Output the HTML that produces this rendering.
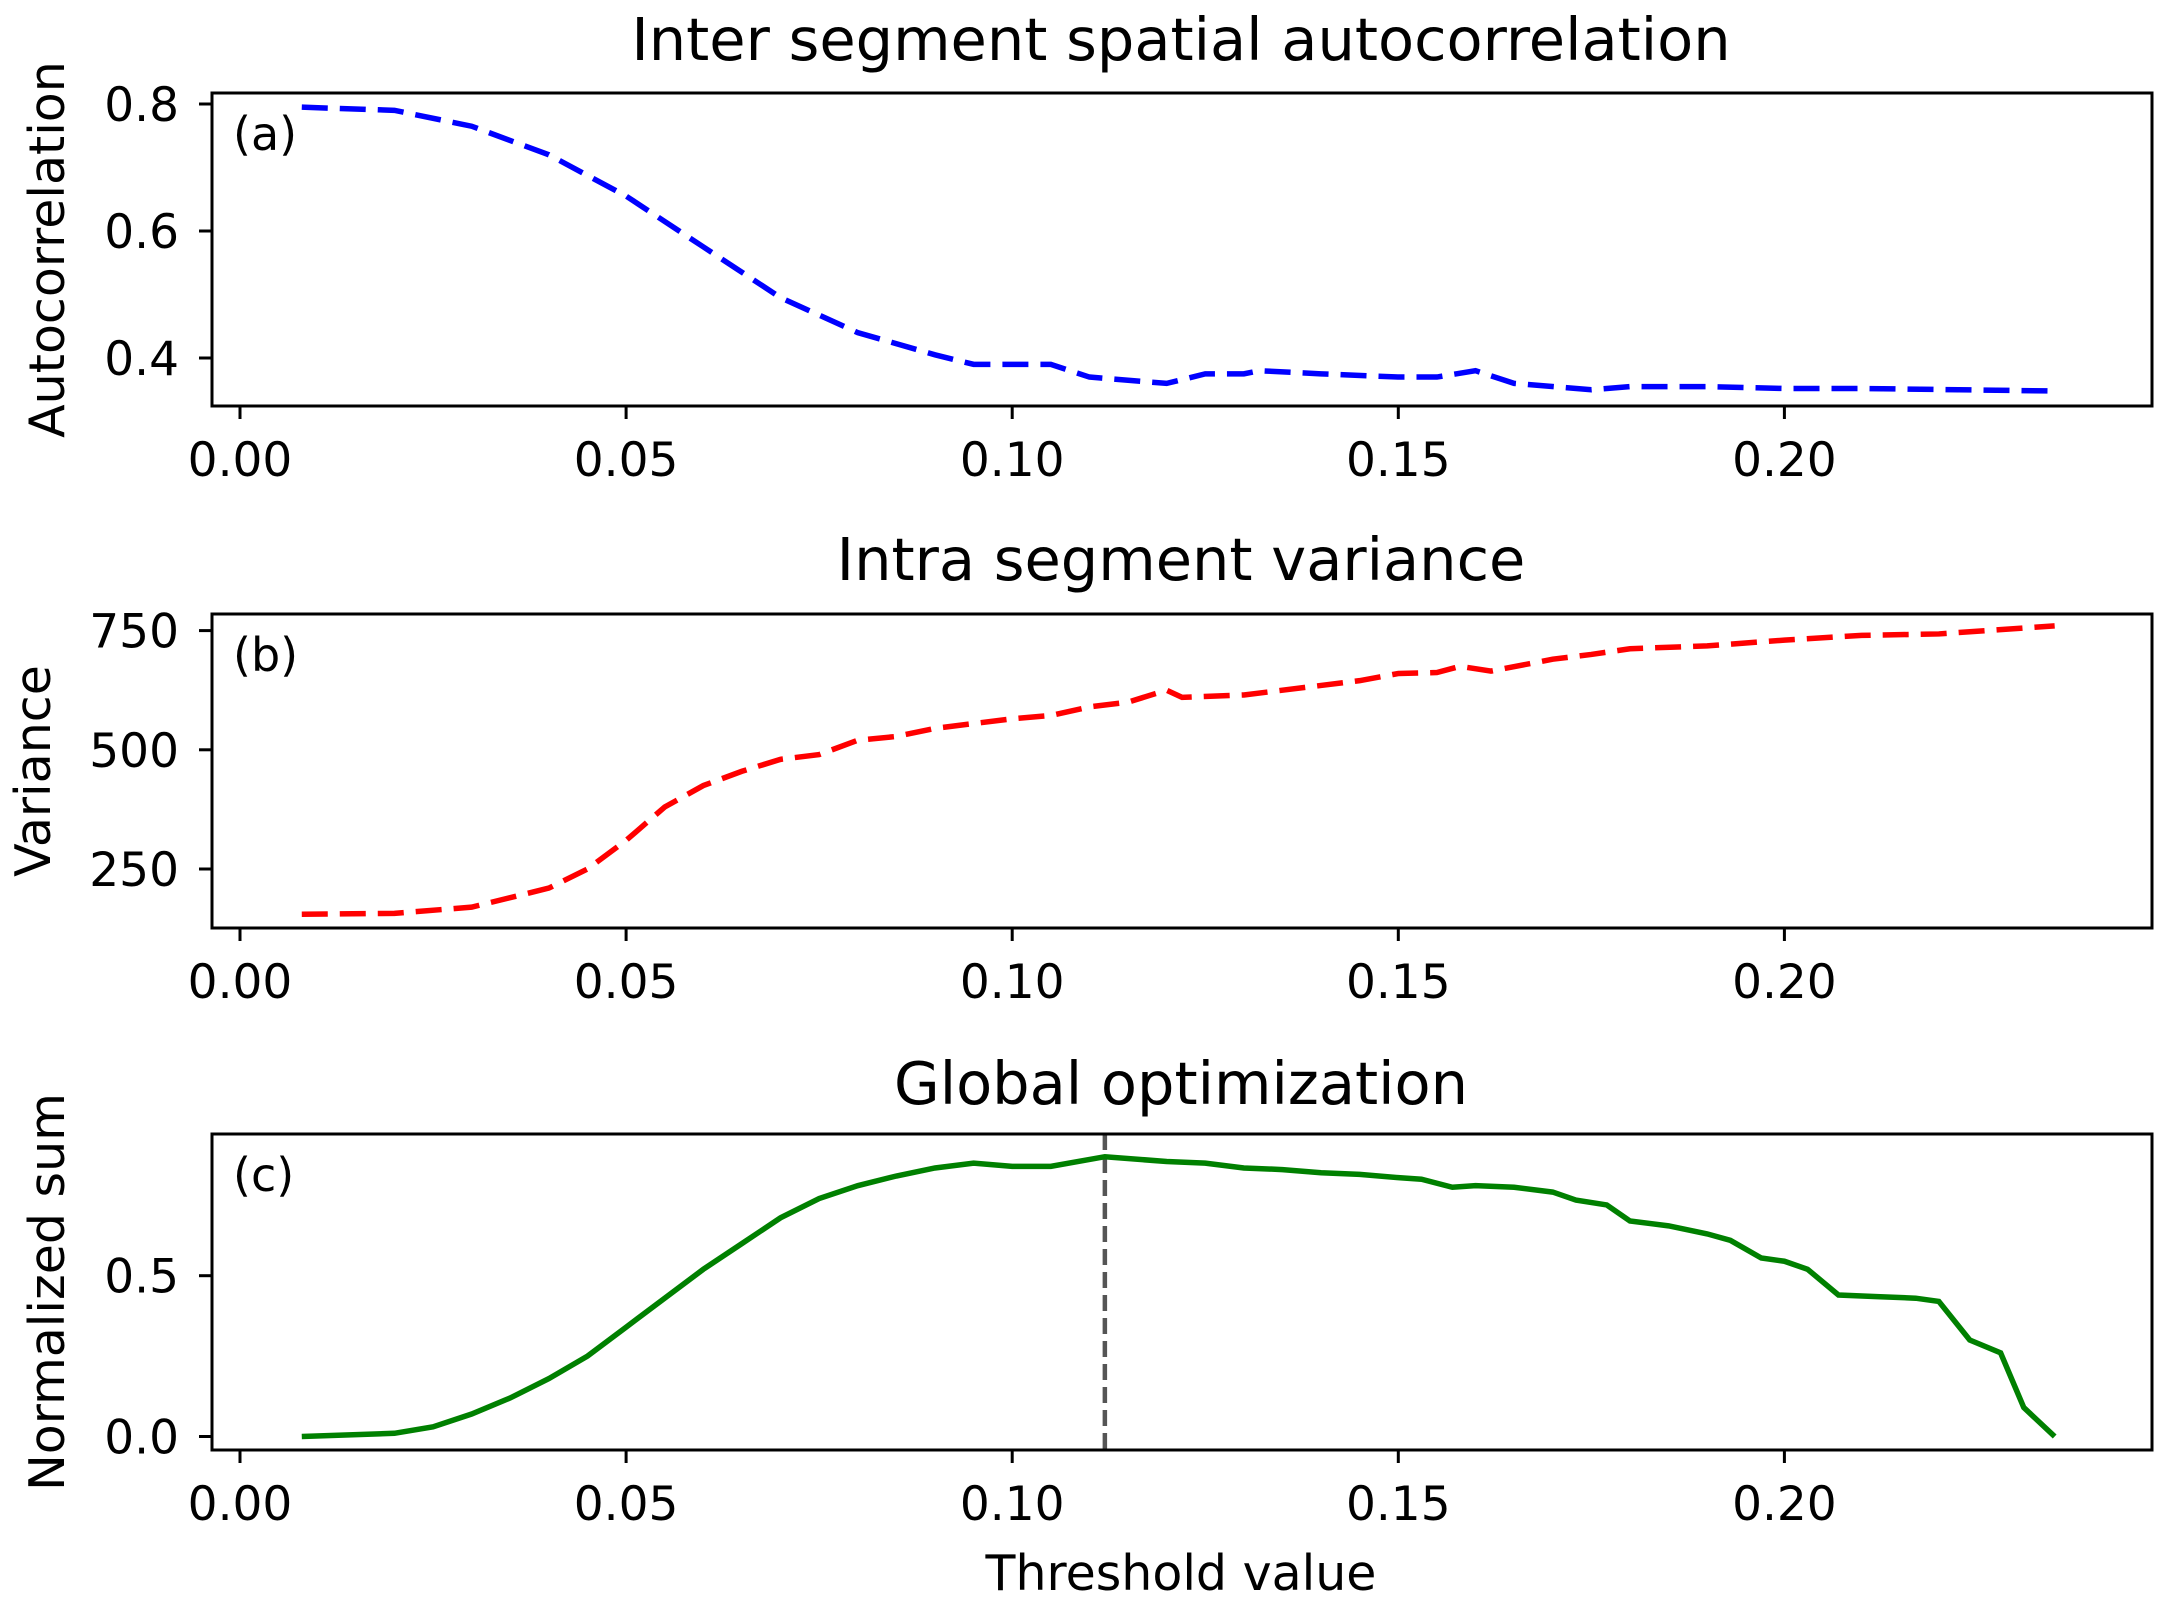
<!DOCTYPE html>
<html><head><meta charset="utf-8"><style>
html,body{margin:0;padding:0;background:#fff}
svg text{font-family:"DejaVu Sans","Liberation Sans",sans-serif;fill:#000}
</style></head><body>
<svg id="fig" width="2167" height="1615" viewBox="0 0 2167 1615" xmlns="http://www.w3.org/2000/svg"></svg>
<script>
const xTicks=[0.00,0.05,0.10,0.15,0.20];
const xTickLabels=["0.00","0.05","0.10","0.15","0.20"];
const aX=[0.008,0.02,0.03,0.04,0.05,0.06,0.07,0.08,0.09,0.095,0.105,0.11,0.12,0.125,0.13,0.132,0.14,0.15,0.155,0.16,0.165,0.175,0.18,0.19,0.2,0.21,0.235];
const aY=[0.795,0.79,0.765,0.72,0.655,0.575,0.495,0.44,0.405,0.39,0.39,0.37,0.36,0.375,0.375,0.38,0.375,0.37,0.37,0.38,0.36,0.35,0.355,0.355,0.352,0.352,0.348];
const aTicks=[0.4,0.6,0.8];
const aTickLabels=["0.4","0.6","0.8"];
const bX=[0.008,0.02,0.03,0.04,0.045,0.05,0.055,0.06,0.065,0.07,0.075,0.08,0.085,0.09,0.1,0.105,0.11,0.115,0.12,0.122,0.13,0.14,0.145,0.15,0.155,0.158,0.162,0.17,0.175,0.18,0.19,0.2,0.21,0.22,0.235];
const bY=[155,157,170,210,250,310,380,425,455,480,490,520,528,545,565,572,590,600,625,610,615,635,645,660,662,675,665,690,700,712,718,730,740,743,760];
const bTicks=[250,500,750];
const bTickLabels=["250","500","750"];
const cX=[0.008,0.02,0.025,0.03,0.035,0.04,0.045,0.05,0.055,0.06,0.065,0.07,0.075,0.08,0.085,0.09,0.095,0.1,0.105,0.112,0.12,0.125,0.13,0.135,0.14,0.145,0.15,0.153,0.157,0.16,0.165,0.17,0.173,0.177,0.18,0.185,0.19,0.193,0.197,0.2,0.203,0.207,0.212,0.217,0.22,0.224,0.228,0.231,0.235];
const cY=[0.0,0.01,0.03,0.07,0.12,0.18,0.25,0.34,0.43,0.52,0.60,0.68,0.74,0.78,0.81,0.835,0.85,0.84,0.84,0.87,0.855,0.85,0.835,0.83,0.82,0.815,0.805,0.80,0.775,0.78,0.775,0.76,0.735,0.72,0.67,0.655,0.63,0.61,0.555,0.545,0.52,0.44,0.435,0.43,0.42,0.30,0.26,0.09,0.0];
const cTicks=[0.0,0.5];
const cTickLabels=["0.0","0.5"];
const optimumX=[0.112];

const NS="http://www.w3.org/2000/svg";
const svg=document.getElementById('fig');
function mk(tag,attrs,parent){const e=document.createElementNS(NS,tag);for(const k in attrs)e.setAttribute(k,attrs[k]);(parent||svg).appendChild(e);return e;}
const L=212,R=2152;
const xs=v=>240+v*7722;

function panel(key,top,bot,yRef,yRefPx,pxPerUnit,ticks,labels,title,titleY,ylab,ylabX,tag){
  const ys=v=>yRefPx-(v-yRef)*pxPerUnit;
  const g=mk('g',{});
  
  
  const t=mk('text',{x:1181,y:titleY,'font-size':59,'text-anchor':'middle'},g);
  t.textContent=title;
  
  
  const yl=mk('text',{x:ylabX,y:(top+bot)/2,'font-size':49,'text-anchor':'middle',transform:`rotate(-90 ${ylabX} ${(top+bot)/2})`},g);
  yl.textContent=ylab;
  
  
  xTicks.forEach((v,i)=>{
    mk('line',{x1:xs(v),x2:xs(v),y1:bot,y2:bot+13,stroke:'#000','stroke-width':3},g);
    const tx=mk('text',{x:xs(v),y:bot+70,'font-size':47,'text-anchor':'middle'},g);
    tx.textContent=xTickLabels[i];
    
    
  });
  ticks.forEach((v,i)=>{
    mk('line',{x1:L-13,x2:L,y1:ys(v),y2:ys(v),stroke:'#000','stroke-width':3},g);
    const tx=mk('text',{x:L-33,y:ys(v)+17,'font-size':47,'text-anchor':'end'},g);
    tx.textContent=labels[i];
    
    
  });
  const lab=mk('text',{x:233,y:top+57,'font-size':46},g);
  lab.textContent=tag;
  
  
  return {g,ys};
}

// Panel a
let p=panel('a',93,406,0.4,358,635,aTicks,aTickLabels,'Inter segment spatial autocorrelation',60,'Autocorrelation',64,'(a)');
let path=mk('path',{d:aX.map((x,i)=>(i?'L':'M')+xs(x)+','+p.ys(aY[i])).join(''),fill:'none',stroke:'#0000ff','stroke-width':5.5,'stroke-dasharray':'26 12'},p.g);


mk('rect',{x:L,y:93,width:R-L,height:313,fill:'none',stroke:'#000','stroke-width':3},p.g);

// Panel b
p=panel('b',614,928,250,869,119.2/250,bTicks,bTickLabels,'Intra segment variance',580,'Variance',50,'(b)');
path=mk('path',{d:bX.map((x,i)=>(i?'L':'M')+xs(x)+','+p.ys(bY[i])).join(''),fill:'none',stroke:'#ff0000','stroke-width':5.5,'stroke-dasharray':'26 12'},p.g);


mk('rect',{x:L,y:614,width:R-L,height:314,fill:'none',stroke:'#000','stroke-width':3},p.g);

// Panel c
p=panel('c',1134,1450,0,1436.5,321.6,cTicks,cTickLabels,'Global optimization',1104,'Normalized sum',64,'(c)');
const vl=mk('line',{x1:xs(optimumX[0]),x2:xs(optimumX[0]),y1:1134,y2:1450,stroke:'#555','stroke-width':4.5,'stroke-dasharray':'16 7'},p.g);


path=mk('path',{d:cX.map((x,i)=>(i?'L':'M')+xs(x)+','+p.ys(cY[i])).join(''),fill:'none',stroke:'#008000','stroke-width':5.5},p.g);


mk('rect',{x:L,y:1134,width:R-L,height:316,fill:'none',stroke:'#000','stroke-width':3},p.g);

const xl=mk('text',{x:1181,y:1590,'font-size':49,'text-anchor':'middle'});
xl.textContent='Threshold value';


</script>
</body></html>
